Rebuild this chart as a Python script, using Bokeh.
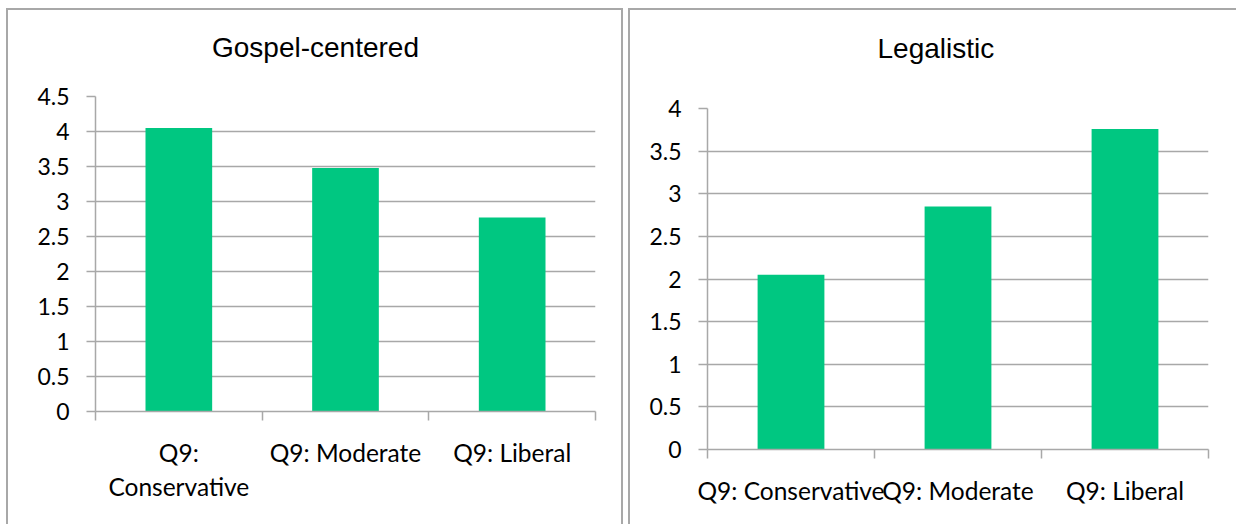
from bokeh.plotting import figure
from bokeh.models import Range1d, FixedTicker, Label, Title
from bokeh.embed import file_html
from bokeh.resources import INLINE

# Survey means by political leaning (question Q9)
categories = ["Q9: Conservative", "Q9: Moderate", "Q9: Liberal"]
gospel_labels = ["Q9:\nConservative", "Q9: Moderate", "Q9: Liberal"]
legalistic_labels = ["Q9: Conservative", "Q9: Moderate", "Q9: Liberal"]
gospel_values = [4.05, 3.48, 2.77]
legalistic_values = [2.05, 2.85, 3.76]
gospel_ticks = [0, 0.5, 1, 1.5, 2, 2.5, 3, 3.5, 4, 4.5]
legalistic_ticks = [0, 0.5, 1, 1.5, 2, 2.5, 3, 3.5, 4]

BAR = "#00c781"
GRID = "#a8a8a8"
TICK_FONT = "Lato"
EDGE = "2px solid #a8a8a8"


def bar_chart(labels, values, yticks, width, height, margins):
    n = len(labels)
    p = figure(
        width=width, height=height,
        x_range=Range1d(0, n), y_range=Range1d(0, max(yticks)),
        output_backend="svg", toolbar_location=None,
        min_border_left=margins[0], min_border_right=margins[1],
        min_border_top=margins[2], min_border_bottom=margins[3],
    )
    p.outline_line_color = None
    p.background_fill_color = "white"
    p.border_fill_color = "white"

    centers = [i + 0.5 for i in range(n)]
    p.vbar(x=centers, top=values, bottom=0, width=0.4,
           fill_color=BAR, line_color=None)

    # category axis: labels at centres, tick marks at the boundaries
    xa = p.xaxis[0]
    xa.ticker = FixedTicker(ticks=centers, minor_ticks=list(range(n + 1)))
    xa.major_label_overrides = {c: lab for c, lab in zip(centers, labels)}
    xa.major_tick_in = 0
    xa.major_tick_out = 0
    xa.minor_tick_in = 0
    xa.minor_tick_out = 9
    xa.minor_tick_line_color = GRID
    xa.minor_tick_line_width = 1.5
    xa.axis_line_color = GRID
    xa.axis_line_width = 1.5
    xa.major_label_standoff = 17
    xa.major_label_text_font = TICK_FONT
    xa.major_label_text_font_size = "24.5px"
    xa.major_label_text_color = "#000000"
    p.xgrid.visible = False

    ya = p.yaxis[0]
    ya.ticker = FixedTicker(ticks=yticks, minor_ticks=[])
    ya.major_label_overrides = {t: f"{t:g}" for t in yticks}
    ya.major_tick_in = 0
    ya.major_tick_out = 9
    ya.major_tick_line_color = GRID
    ya.major_tick_line_width = 1.5
    ya.axis_line_color = GRID
    ya.axis_line_width = 1.5
    ya.major_label_standoff = 17
    ya.major_label_text_font = TICK_FONT
    ya.major_label_text_font_size = "23px"
    ya.major_label_text_color = "#000000"

    p.ygrid.ticker = FixedTicker(ticks=yticks)
    p.ygrid.grid_line_color = GRID
    p.ygrid.grid_line_width = 1.5
    return p


left = bar_chart(gospel_labels, gospel_values, gospel_ticks,
                 613, 514, (87, 30, 86, 115))
left.add_layout(Label(
    x=220, y=49, x_units="screen", y_units="screen",
    text="Gospel-centered", text_align="center", text_baseline="middle",
    text_font="Liberation Sans", text_font_size="28px", text_color="#000000",
), "above")
left.styles = {"position": "absolute", "left": "6px", "top": "8px",
               "box-sizing": "content-box",
               "border-left": EDGE, "border-top": EDGE, "border-right": EDGE}

right = bar_chart(legalistic_labels, legalistic_values, legalistic_ticks,
                  606, 514, (77, 30, 98, 77))
right.add_layout(Title(text=" ", text_font_size="10px", standoff=32), "above")
right.add_layout(Title(
    text="Legalistic", align="left", offset=170, standoff=0,
    text_font="Liberation Sans", text_font_size="28px",
    text_font_style="normal", text_color="#000000",
), "above")
right.styles = {"position": "absolute", "left": "628px", "top": "8px",
                "box-sizing": "content-box",
                "border-left": EDGE, "border-top": EDGE}

open("out.html", "w").write(file_html([left, right], INLINE))
